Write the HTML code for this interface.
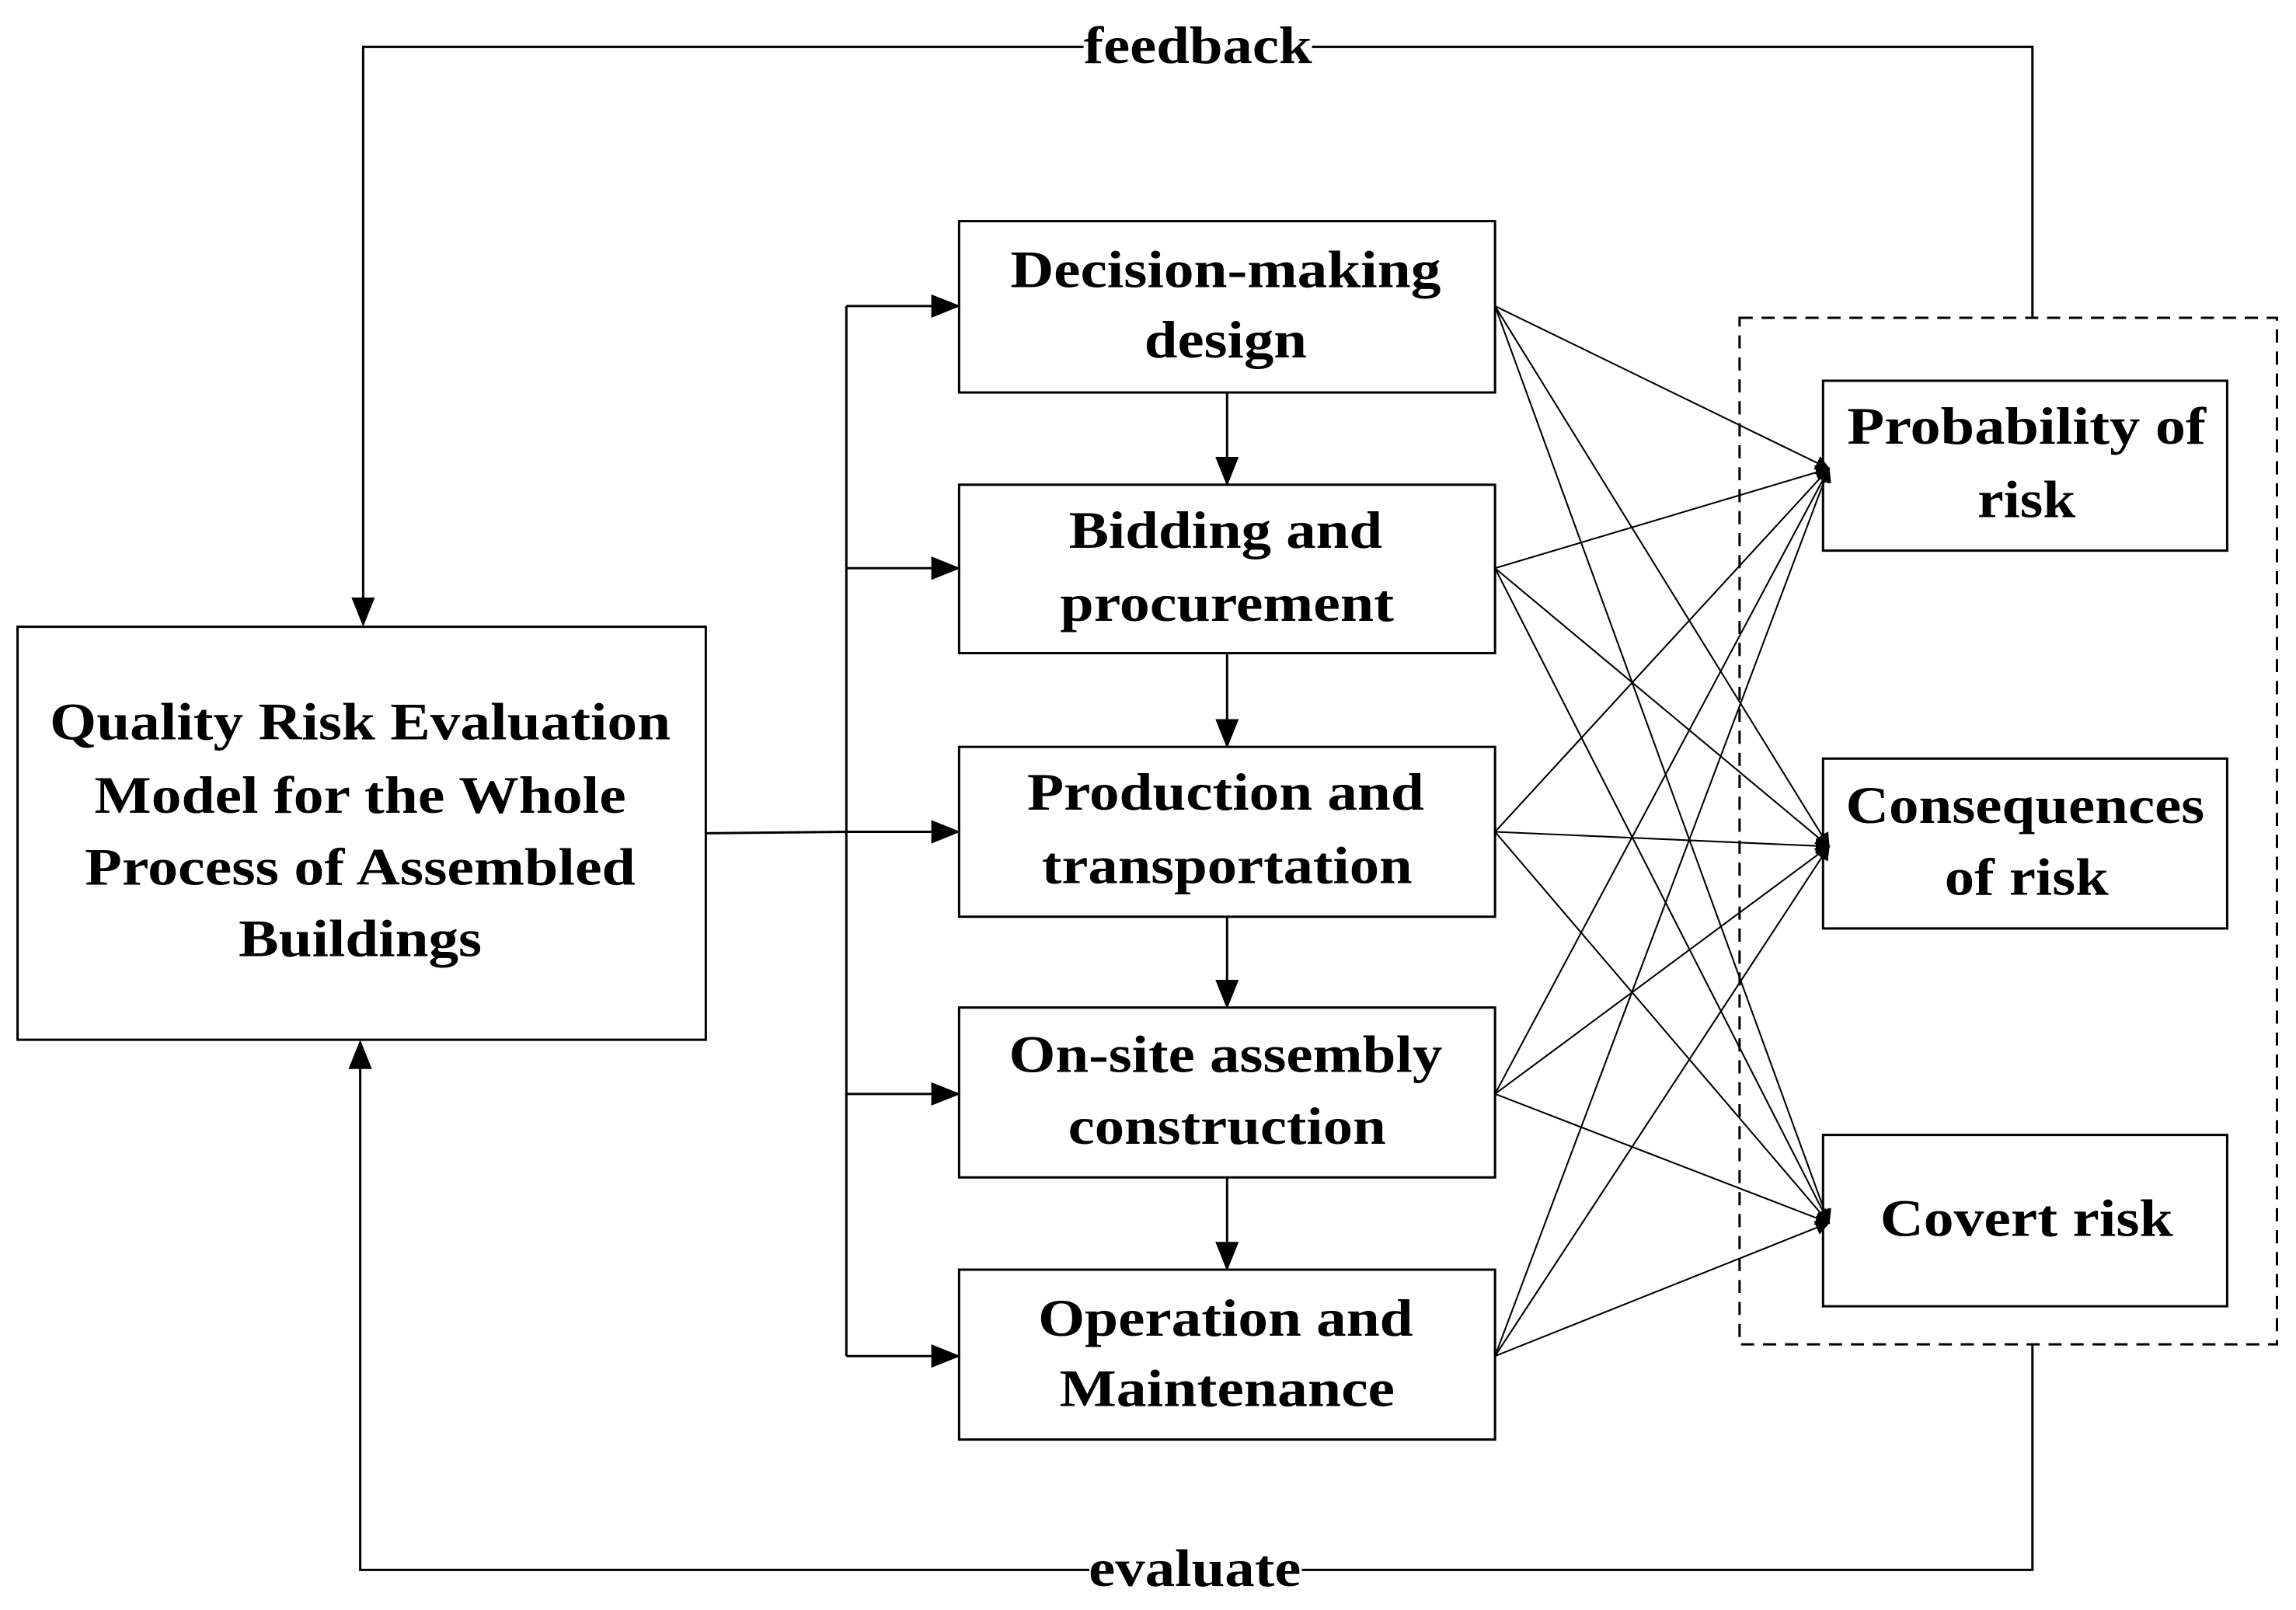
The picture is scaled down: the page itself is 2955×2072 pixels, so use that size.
<!DOCTYPE html>
<html><head><style>html,body{margin:0;padding:0;background:#fff}svg{display:block}</style></head>
<body>
<svg width="2955" height="2072" viewBox="0 0 1568 1099.4" preserveAspectRatio="none" xmlns="http://www.w3.org/2000/svg">
<defs>
<marker id="a" markerWidth="10" markerHeight="10" refX="9" refY="5" orient="auto" markerUnits="userSpaceOnUse" viewBox="0 0 10 10"><path d="M0,0 L10,5 L0,10 z" fill="#000"/></marker>
<marker id="b" markerWidth="20" markerHeight="20" refX="18" refY="10" orient="auto" markerUnits="userSpaceOnUse" viewBox="0 0 20 20"><path d="M0,2 L20,10 L0,18 z" fill="#000"/></marker>
</defs>
<g fill="none" stroke="#000" stroke-width="1.6">
<rect x="12" y="428" width="470" height="282"/>
<rect x="655" y="151" width="366" height="117"/>
<rect x="655" y="331" width="366" height="115"/>
<rect x="655" y="510" width="366" height="116"/>
<rect x="655" y="688" width="366" height="116"/>
<rect x="655" y="867" width="366" height="116"/>
<rect x="1245" y="260" width="276" height="116"/>
<rect x="1245" y="518" width="276" height="116"/>
<rect x="1245" y="775" width="276" height="117"/>
<rect x="1188" y="217" width="367" height="701" stroke-dasharray="9,6"/>
<polyline points="1388,217 1388,32 248,32 248,426" marker-end="url(#b)"/>
<polyline points="1388,918 1388,1072 246,1072 246,712" marker-end="url(#b)"/>
<line x1="482" y1="569" x2="578" y2="568"/>
<line x1="578" y1="209" x2="578" y2="926"/>
<line x1="578" y1="209" x2="654" y2="209" marker-end="url(#b)"/>
<line x1="578" y1="388" x2="654" y2="388" marker-end="url(#b)"/>
<line x1="578" y1="568" x2="654" y2="568" marker-end="url(#b)"/>
<line x1="578" y1="747" x2="654" y2="747" marker-end="url(#b)"/>
<line x1="578" y1="926" x2="654" y2="926" marker-end="url(#b)"/>
<line x1="838" y1="268" x2="838" y2="330" marker-end="url(#b)"/>
<line x1="838" y1="446" x2="838" y2="509" marker-end="url(#b)"/>
<line x1="838" y1="626" x2="838" y2="687" marker-end="url(#b)"/>
<line x1="838" y1="804" x2="838" y2="866" marker-end="url(#b)"/>
<g stroke-width="1.1">
<line x1="1021" y1="209" x2="1249" y2="320" marker-end="url(#a)"/>
<line x1="1021" y1="209" x2="1249" y2="578" marker-end="url(#a)"/>
<line x1="1021" y1="209" x2="1249" y2="835" marker-end="url(#a)"/>
<line x1="1021" y1="388" x2="1249" y2="320" marker-end="url(#a)"/>
<line x1="1021" y1="388" x2="1249" y2="578" marker-end="url(#a)"/>
<line x1="1021" y1="388" x2="1249" y2="835" marker-end="url(#a)"/>
<line x1="1021" y1="568" x2="1249" y2="320" marker-end="url(#a)"/>
<line x1="1021" y1="568" x2="1249" y2="578" marker-end="url(#a)"/>
<line x1="1021" y1="568" x2="1249" y2="835" marker-end="url(#a)"/>
<line x1="1021" y1="747" x2="1249" y2="320" marker-end="url(#a)"/>
<line x1="1021" y1="747" x2="1249" y2="578" marker-end="url(#a)"/>
<line x1="1021" y1="747" x2="1249" y2="835" marker-end="url(#a)"/>
<line x1="1021" y1="926" x2="1249" y2="320" marker-end="url(#a)"/>
<line x1="1021" y1="926" x2="1249" y2="578" marker-end="url(#a)"/>
<line x1="1021" y1="926" x2="1249" y2="835" marker-end="url(#a)"/>
</g>
</g>
<rect x="740" y="14" width="156" height="36" fill="#fff"/>
<rect x="744" y="1054" width="145" height="36" fill="#fff"/>
<g font-family="Liberation Serif, serif" font-weight="bold" font-size="36" text-anchor="middle" fill="#000" lengthAdjust="spacingAndGlyphs">
<text x="818" y="43" textLength="156" lengthAdjust="spacingAndGlyphs">feedback</text>
<text x="816" y="1083" textLength="145" lengthAdjust="spacingAndGlyphs">evaluate</text>
<text x="246" y="505" textLength="424" lengthAdjust="spacingAndGlyphs">Quality Risk Evaluation</text>
<text x="246" y="555" textLength="363" lengthAdjust="spacingAndGlyphs">Model for the Whole</text>
<text x="246" y="604" textLength="376" lengthAdjust="spacingAndGlyphs">Process of Assembled</text>
<text x="246" y="653" textLength="166" lengthAdjust="spacingAndGlyphs">Buildings</text>
<text x="837" y="196" textLength="294" lengthAdjust="spacingAndGlyphs">Decision-making</text>
<text x="837" y="244" textLength="111" lengthAdjust="spacingAndGlyphs">design</text>
<text x="837" y="374" textLength="214" lengthAdjust="spacingAndGlyphs">Bidding and</text>
<text x="838" y="424" textLength="228" lengthAdjust="spacingAndGlyphs">procurement</text>
<text x="837" y="553" textLength="271" lengthAdjust="spacingAndGlyphs">Production and</text>
<text x="838" y="603" textLength="253" lengthAdjust="spacingAndGlyphs">transportation</text>
<text x="837" y="732" textLength="296" lengthAdjust="spacingAndGlyphs">On-site assembly</text>
<text x="838" y="781" textLength="217" lengthAdjust="spacingAndGlyphs">construction</text>
<text x="837" y="912" textLength="256" lengthAdjust="spacingAndGlyphs">Operation and</text>
<text x="838" y="960" textLength="229" lengthAdjust="spacingAndGlyphs">Maintenance</text>
<text x="1384" y="303" textLength="245" lengthAdjust="spacingAndGlyphs">Probability of</text>
<text x="1384" y="353" textLength="67" lengthAdjust="spacingAndGlyphs">risk</text>
<text x="1383" y="562" textLength="245" lengthAdjust="spacingAndGlyphs">Consequences</text>
<text x="1384" y="611" textLength="112" lengthAdjust="spacingAndGlyphs">of risk</text>
<text x="1384" y="844" textLength="200" lengthAdjust="spacingAndGlyphs">Covert risk</text>
</g>
</svg>
</body></html>
